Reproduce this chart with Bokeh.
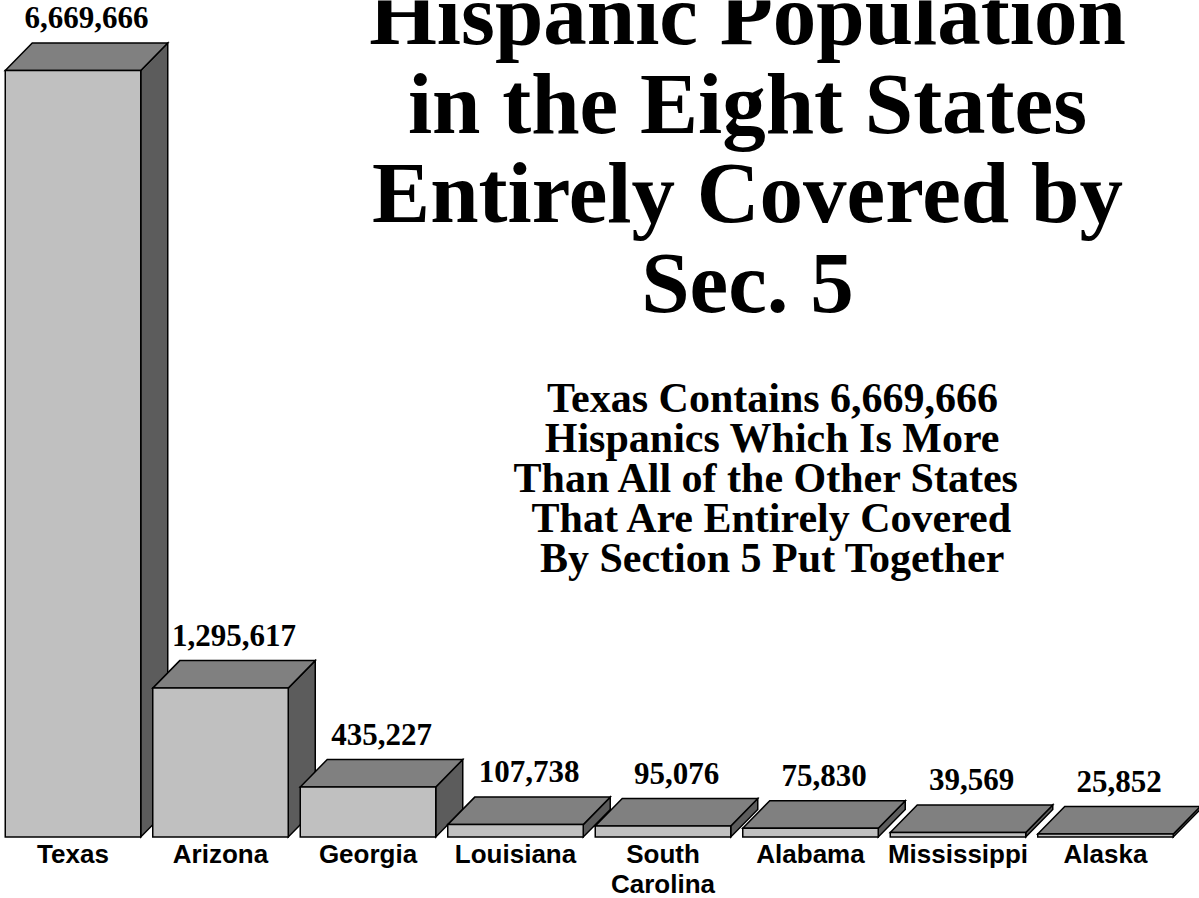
from bokeh.plotting import figure
from bokeh.models import ColumnDataSource, Range1d, Label
from bokeh.embed import file_html
from bokeh.resources import INLINE
from bokeh.core.properties import value

# ---- data ----
states = ["Texas", "Arizona", "Georgia", "Louisiana", "South\nCarolina",
          "Alabama", "Mississippi", "Alaska"]
hispanic_pop = [6669666, 1295617, 435227, 107738, 95076, 75830, 39569, 25852]
value_labels = ["6,669,666", "1,295,617", "435,227", "107,738", "95,076",
                "75,830", "39,569", "25,852"]
title_lines = ["Hispanic Population", "in the Eight States",
               "Entirely Covered by", "Sec. 5"]
note_lines = ["Texas Contains 6,669,666", "Hispanics Which Is More",
              "Than  All of the Other States", "That Are Entirely Covered",
              "By Section 5 Put Together"]

# ---- layout (pixels) ----
W, H = 1199, 898
PX_PER_CAT = 147.5          # spacing between bars
FIRST_CENTER_PX = 72.5      # centre of first bar front
BASE_PX = 836.5             # baseline (from top)
TOP_PX = 70.0               # top of the tallest bar (from top)
BAR_W_PX = 135.5
DX_PX, DY_PX = 27.0, 27.5   # 3-D depth offset
BASELINE_CORR = 0.335       # empirical baseline correction (fraction of font size)

units_per_px_y = max(hispanic_pop) / (BASE_PX - TOP_PX)
x0 = -FIRST_CENTER_PX / PX_PER_CAT
x1 = x0 + W / PX_PER_CAT
y0 = -(H - BASE_PX) * units_per_px_y
y1 = BASE_PX * units_per_px_y

bw = BAR_W_PX / PX_PER_CAT
dx = DX_PX / PX_PER_CAT
dy = DY_PX * units_per_px_y

p = figure(width=W, height=H, x_range=Range1d(x0, x1), y_range=Range1d(y0, y1),
           output_backend="svg", toolbar_location=None,
           x_axis_type=None, y_axis_type=None, min_border=0,
           background_fill_color="white", border_fill_color="white")
p.outline_line_color = None
p.grid.visible = False

FRONT, TOP, SIDE = "#C0C0C0", "#808080", "#5C5C5C"

xs, ys, colors = [], [], []
for i, v in enumerate(hispanic_pop):
    xl, xr = i - bw / 2, i + bw / 2
    # side face
    xs.append([xr, xr, xr + dx, xr + dx]); ys.append([0, v, v + dy, dy]); colors.append(SIDE)
    # top face
    xs.append([xl, xl + dx, xr + dx, xr]); ys.append([v, v + dy, v + dy, v]); colors.append(TOP)
    # front face
    xs.append([xl, xl, xr, xr]); ys.append([0, v, v, 0]); colors.append(FRONT)

faces = ColumnDataSource(dict(xs=xs, ys=ys, color=colors))
p.patches("xs", "ys", source=faces, fill_color="color", line_color="black",
          line_width=1.5, line_join="miter")

# value labels above each bar
VAL_FS = 31
lab_src = ColumnDataSource(dict(
    x=[i + dx / 2 for i in range(len(hispanic_pop))],
    y=[v + dy + (15 + BASELINE_CORR * VAL_FS) * units_per_px_y for v in hispanic_pop],
    text=value_labels))
p.text("x", "y", text="text", source=lab_src, text_align="center",
       text_baseline="alphabetic", text_font=value("Liberation Serif"),
       text_font_style="bold", text_font_size=f"{VAL_FS}px", text_color="black")

# category labels
cat_src = ColumnDataSource(dict(
    x=list(range(len(states))),
    y=[-(838 - BASE_PX) * units_per_px_y] * len(states),
    text=states))
p.text("x", "y", text="text", source=cat_src, text_align="center",
       text_baseline="top", text_font=value("Liberation Sans"),
       text_font_style="bold", text_font_size="26px", text_color="black",
       text_line_height=1.0)

# title
TITLE_FS = 87
for k, line in enumerate(title_lines):
    base = 43 + 89.3 * k
    p.add_layout(Label(x=747, y=H - base + BASELINE_CORR * TITLE_FS,
                       x_units="screen", y_units="screen",
                       text=line, text_align="center", text_baseline="alphabetic",
                       text_font="Liberation Serif", text_font_style="bold",
                       text_font_size=f"{TITLE_FS}px", text_color="black"))

# note
NOTE_FS = 42
for k, line in enumerate(note_lines):
    base = 412 + 40 * k
    p.add_layout(Label(x=772, y=H - base + BASELINE_CORR * NOTE_FS,
                       x_units="screen", y_units="screen",
                       text=line, text_align="center", text_baseline="alphabetic",
                       text_font="Liberation Serif", text_font_style="bold",
                       text_font_size=f"{NOTE_FS}px", text_color="black"))

open("out.html", "w").write(file_html(p, INLINE))
